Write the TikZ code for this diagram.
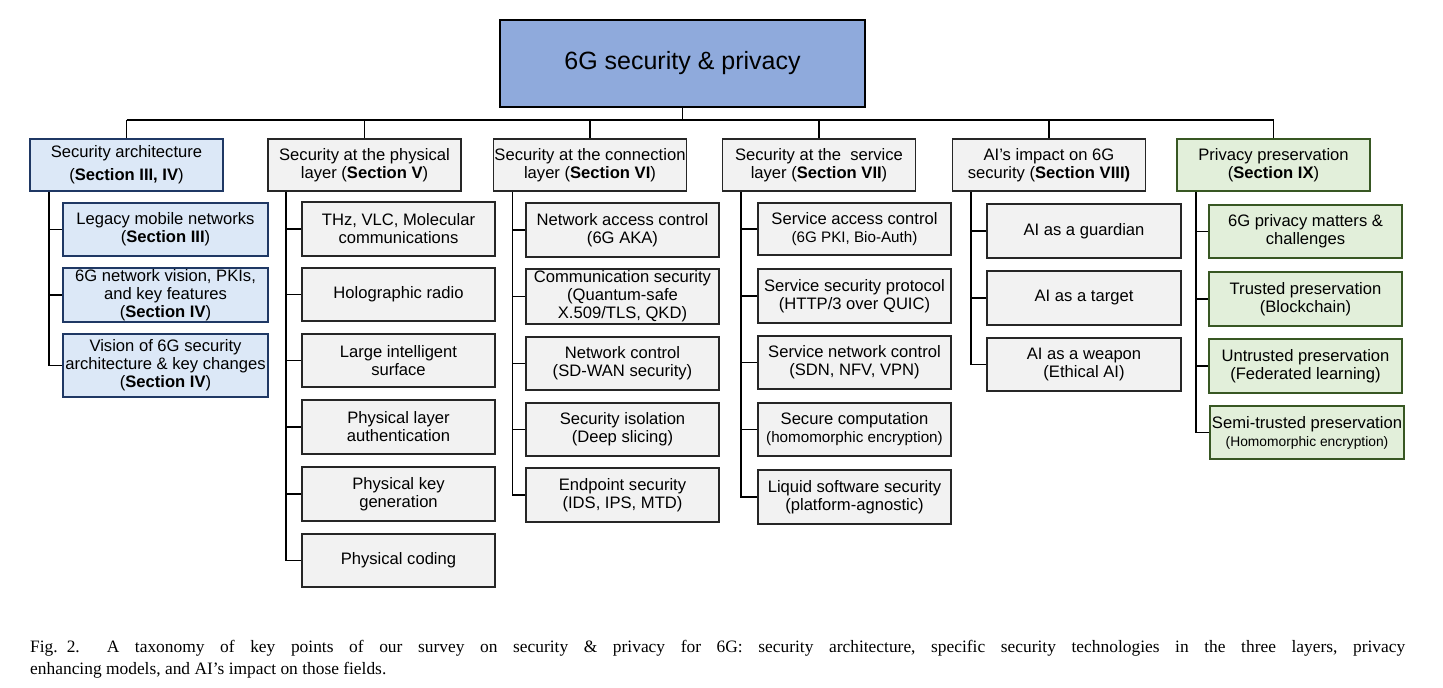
\documentclass[tikz,border=0pt]{standalone}
\usepackage{fontspec}
\setmainfont{Liberation Sans}
\newfontfamily\capfont{Liberation Serif}
\definecolor{topfill}{RGB}{143,170,220}
\definecolor{bluefill}{RGB}{220,232,247}
\definecolor{blueline}{RGB}{31,56,100}
\definecolor{grayfill}{RGB}{242,242,242}
\definecolor{grayline}{RGB}{38,38,38}
\definecolor{greenfill}{RGB}{226,239,218}
\definecolor{greenline}{RGB}{56,87,35}
\newcommand\fmain{\fontsize{16.6}{18}\selectfont}
\newcommand\fsm{\fontsize{15.2}{17}\selectfont}
\newcommand\fxs{\fontsize{13.8}{16}\selectfont}
\tikzset{
  box/.style={draw, line width=1.8pt, align=center, inner xsep=1pt, inner ysep=0pt, font=\fmain},
  gbox/.style={box, draw=grayline, fill=grayfill},
  bbox/.style={box, draw=blueline, fill=bluefill},
  nbox/.style={box, draw=greenline, fill=greenfill},
  conn/.style={line width=1.6pt, draw=black},
  sz/.style n args={2}{minimum width=#1, minimum height=#2},
}
\begin{document}
\begin{tikzpicture}[x=1pt,y=-1pt]
\useasboundingbox (0,0) rectangle (1443,688);

% root
\node[box, draw=black, fill=topfill, sz={365pt}{87pt}, font=\fontsize{25}{30}\selectfont] (top) at (682.5,63.5) {\raisebox{-2pt}{6G security \& privacy}};

% level 1
\node[bbox, sz={193pt}{52pt}] (A) at (126.5,165) {Security architecture\\[5pt](\textbf{Section III, IV})};
\node[gbox, sz={193pt}{52pt}] (B) at (364.5,165) {Security at the physical\\layer (\textbf{Section V})};
\node[gbox, sz={193pt}{52pt}] (C) at (590,165) {Security at the connection\\layer (\textbf{Section VI})};
\node[gbox, sz={193pt}{52pt}] (D) at (819,165) {Security at the\ \ service\\layer (\textbf{Section VII})};
\node[gbox, sz={193pt}{52pt}] (E) at (1049,165) {AI’s impact on 6G\\security (\textbf{Section VIII)}};
\node[nbox, sz={193pt}{52pt}] (F) at (1273.5,165) {Privacy preservation\\(\textbf{Section IX})};

% column A
\node[bbox, sz={205pt}{53pt}] (a1) at (165.5,229.5) {Legacy mobile networks\\(\textbf{Section III})};
\node[bbox, sz={205pt}{54pt}] (a2) at (165.5,295) {6G network vision, PKIs,\\and key features\\(\textbf{Section IV})};
\node[bbox, sz={205pt}{63pt}] (a3) at (165.5,365.5) {Vision of 6G security\\architecture \& key changes\\(\textbf{Section IV})};

% column B
\node[gbox, sz={193pt}{54pt}] (b1) at (398.5,229) {THz, VLC, Molecular\\communications};
\node[gbox, sz={193pt}{53pt}] (b2) at (398.5,294.5) {Holographic radio};
\node[gbox, sz={193pt}{53pt}] (b3) at (398.5,360.5) {Large intelligent\\surface};
\node[gbox, sz={193pt}{54pt}] (b4) at (398.5,427) {Physical layer\\authentication};
\node[gbox, sz={193pt}{54pt}] (b5) at (398.5,494) {Physical key\\generation};
\node[gbox, sz={193pt}{53pt}] (b6) at (398.5,560.5) {Physical coding};

% column C
\node[gbox, sz={193pt}{54pt}] (c1) at (622.5,230) {Network access control\\(6G AKA)};
\node[gbox, sz={193pt}{55pt}] (c2) at (622.5,296.5) {Communication security\\(Quantum-safe\\X.509/TLS, QKD)};
\node[gbox, sz={193pt}{53pt}] (c3) at (622.5,363.5) {Network control\\(SD-WAN security)};
\node[gbox, sz={193pt}{53pt}] (c4) at (622.5,429.5) {Security isolation\\(Deep slicing)};
\node[gbox, sz={193pt}{54pt}] (c5) at (622.5,495) {Endpoint security\\(IDS, IPS, MTD)};

% column D
\node[gbox, sz={193pt}{52pt}] (d1) at (854.5,229) {Service access control\\{\fsm (6G PKI, Bio-Auth)}};
\node[gbox, sz={193pt}{54pt}] (d2) at (854.5,296) {Service security protocol\\(HTTP/3 over QUIC)};
\node[gbox, sz={193pt}{53pt}] (d3) at (854.5,362.5) {Service network control\\(SDN, NFV, VPN)};
\node[gbox, sz={193pt}{53pt}] (d4) at (854.5,429.5) {Secure computation\\{\fsm (homomorphic encryption)}};
\node[gbox, sz={193pt}{54pt}] (d5) at (854.5,497) {Liquid software security\\(platform-agnostic)};

% column E
\node[gbox, sz={194pt}{54pt}] (e1) at (1084,231) {AI as a guardian};
\node[gbox, sz={194pt}{54pt}] (e2) at (1084,298) {AI as a target};
\node[gbox, sz={194pt}{53pt}] (e3) at (1084,364.5) {AI as a weapon\\(Ethical AI)};

% column F
\node[nbox, sz={193pt}{53pt}] (f1) at (1305.5,231.5) {6G privacy matters \&\\challenges};
\node[nbox, sz={193pt}{54pt}] (f2) at (1305.5,299) {Trusted preservation\\(Blockchain)};
\node[nbox, sz={193pt}{54pt}] (f3) at (1305.5,366) {Untrusted preservation\\(Federated learning)};
\node[nbox, sz={194pt}{53pt}] (f4) at (1307,432.5) {Semi-trusted preservation\\{\fxs (Homomorphic encryption)}};

% connectors root -> level 1
\coordinate (bus) at (0,120);
\draw[conn] (top.south) -- (top.south |- bus);
\draw[conn] (A.north |- bus) -- (F.north |- bus);
\foreach \n in {A,B,C,D,E,F} \draw[conn] (\n.north |- bus) -- (\n.north);

% trunks
\coordinate (tA) at (49,0);
\coordinate (tB) at (286,0);
\coordinate (tC) at (512.5,0);
\coordinate (tD) at (741,0);
\coordinate (tE) at (971,0);
\coordinate (tF) at (1196,0);

\draw[conn] (A.south -| tA) |- (a3.west);
\foreach \k in {a1,a2} \draw[conn] (\k.west -| tA) -- (\k.west);
\draw[conn] (B.south -| tB) |- (b6.west);
\foreach \k in {b1,b2,b3,b4,b5} \draw[conn] (\k.west -| tB) -- (\k.west);
\draw[conn] (C.south -| tC) |- (c5.west);
\foreach \k in {c1,c2,c3,c4} \draw[conn] (\k.west -| tC) -- (\k.west);
\draw[conn] (D.south -| tD) |- (d5.west);
\foreach \k in {d1,d2,d3,d4} \draw[conn] (\k.west -| tD) -- (\k.west);
\draw[conn] (E.south -| tE) |- (e3.west);
\foreach \k in {e1,e2} \draw[conn] (\k.west -| tE) -- (\k.west);
\draw[conn] (F.south -| tF) |- (f4.west);
\foreach \k in {f1,f2,f3} \draw[conn] (\k.west -| tF) -- (\k.west);

% caption
\node[anchor=north west, inner sep=0pt, text width=1375pt, align=justify,
      font=\capfont\fontsize{17.4}{22}\selectfont\frenchspacing] (cap) at (30,640)
  {Fig.\hspace{9pt}2.\hspace{27pt}A taxonomy of key points of our survey on security \& privacy for 6G: security architecture, specific security technologies in the three layers, privacy\linebreak enhancing models, and AI’s impact on those fields.};
\end{tikzpicture}
\end{document}
